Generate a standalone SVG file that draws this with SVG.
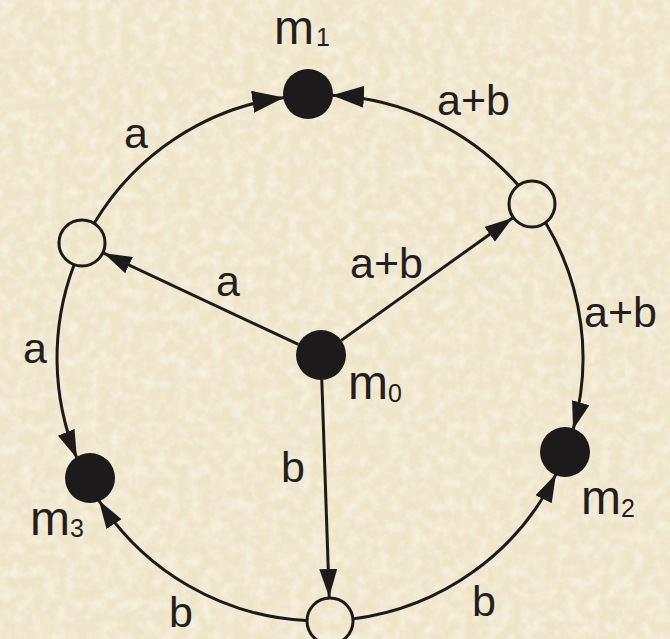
<svg xmlns="http://www.w3.org/2000/svg" width="670" height="639" viewBox="0 0 670 639">
  <style>
    .edge { fill: none; stroke: #1c1a1a; stroke-width: 3; }
    .full { fill: #1c1a1a; stroke: none; }
    .open { fill: none; stroke: #1c1a1a; stroke-width: 3; }
    .lbl { font-family: "Liberation Sans", Arial, sans-serif; font-size: 43px; fill: #231f20; }
    .m { font-family: "Liberation Sans", Arial, sans-serif; font-size: 48px; fill: #231f20; }
    .sub { font-size: 25px; }
  </style>
  <defs>
    <filter id="paper" x="0" y="0" width="100%" height="100%">
      <feTurbulence type="fractalNoise" baseFrequency="0.09" numOctaves="3" seed="4" result="n"/>
      <feColorMatrix in="n" type="matrix" values="0 0 0 0 1  0 0 0 0 1  0 0 0 0 1  0 0 0 -1.4 0.9" result="w"/>
      <feComposite in="w" in2="SourceGraphic" operator="in"/>
    </filter>
    <marker id="arrL" viewBox="0 0 32 22" refX="32" refY="11" markerWidth="32" markerHeight="22" markerUnits="userSpaceOnUse" orient="auto">
      <path d="M0,0 L32,11 L0,22 z" fill="#1c1a1a"/>
    </marker>
    <marker id="arrM" viewBox="0 0 28 18" refX="28" refY="9" markerWidth="28" markerHeight="18" markerUnits="userSpaceOnUse" orient="auto">
      <path d="M0,0 L28,9 L0,18 z" fill="#1c1a1a"/>
    </marker>
  </defs>
  <rect width="670" height="639" fill="#efe5c9"/>
  <rect width="670" height="639" fill="#f8f1de" filter="url(#paper)" opacity="0.6"/>

  <g id="connectors">
    <path class="edge" d="M94.6,222.6 A263,263 0 0 1 284.3,97.4" marker-end="url(#arrL)"/>
    <path class="edge" d="M517.8,184.8 A263,263 0 0 0 331.9,95.3" marker-end="url(#arrL)"/>
    <path class="edge" d="M73.8,265.5 A263,263 0 0 0 76.9,458.2" marker-end="url(#arrM)"/>
    <path class="edge" d="M545.9,223.3 A263,263 0 0 1 573.1,429.6" marker-end="url(#arrM)"/>
    <path class="edge" d="M306.2,620.6 A263,263 0 0 1 98.9,500.5" marker-end="url(#arrM)"/>
    <path class="edge" d="M353.9,618.8 A263,263 0 0 0 556.0,474.1" marker-end="url(#arrM)"/>
    <path class="edge" d="M298.4,344.4 L103.7,253.2" marker-end="url(#arrM)"/>
    <path class="edge" d="M341.3,340.4 L512.5,218.0" marker-end="url(#arrM)"/>
    <path class="edge" d="M321.8,380 L329.2,597" marker-end="url(#arrM)"/>
  </g>

  <g id="m0"><circle class="full" cx="321" cy="355" r="25"/>
    <text class="m" x="348" y="399">m<tspan class="sub" dy="3">0</tspan></text></g>
  <g id="m1"><circle class="full" cx="308" cy="94" r="25"/>
    <text class="m" x="274" y="44">m<tspan class="sub" dx="2" dy="2">1</tspan></text></g>
  <g id="m2"><circle class="full" cx="565" cy="452" r="25"/>
    <text class="m" x="581" y="514">m<tspan class="sub" dy="3">2</tspan></text></g>
  <g id="m3"><circle class="full" cx="90" cy="478" r="25"/>
    <text class="m" x="30" y="535">m<tspan class="sub" dy="2">3</tspan></text></g>
  <g id="n_tl"><circle class="open" cx="82" cy="243" r="23"/></g>
  <g id="n_tr"><circle class="open" cx="532" cy="204" r="23"/></g>
  <g id="n_b"><circle class="open" cx="330" cy="621" r="23"/></g>

  <g id="labels">
    <text class="lbl" x="124" y="148">a</text>
    <text class="lbl" x="437" y="115">a+b</text>
    <text class="lbl" x="216" y="296">a</text>
    <text class="lbl" x="350" y="278">a+b</text>
    <text class="lbl" x="584" y="327">a+b</text>
    <text class="lbl" x="23" y="363">a</text>
    <text class="lbl" x="281" y="482">b</text>
    <text class="lbl" x="169" y="627">b</text>
    <text class="lbl" x="472" y="616">b</text>
  </g>
</svg>
